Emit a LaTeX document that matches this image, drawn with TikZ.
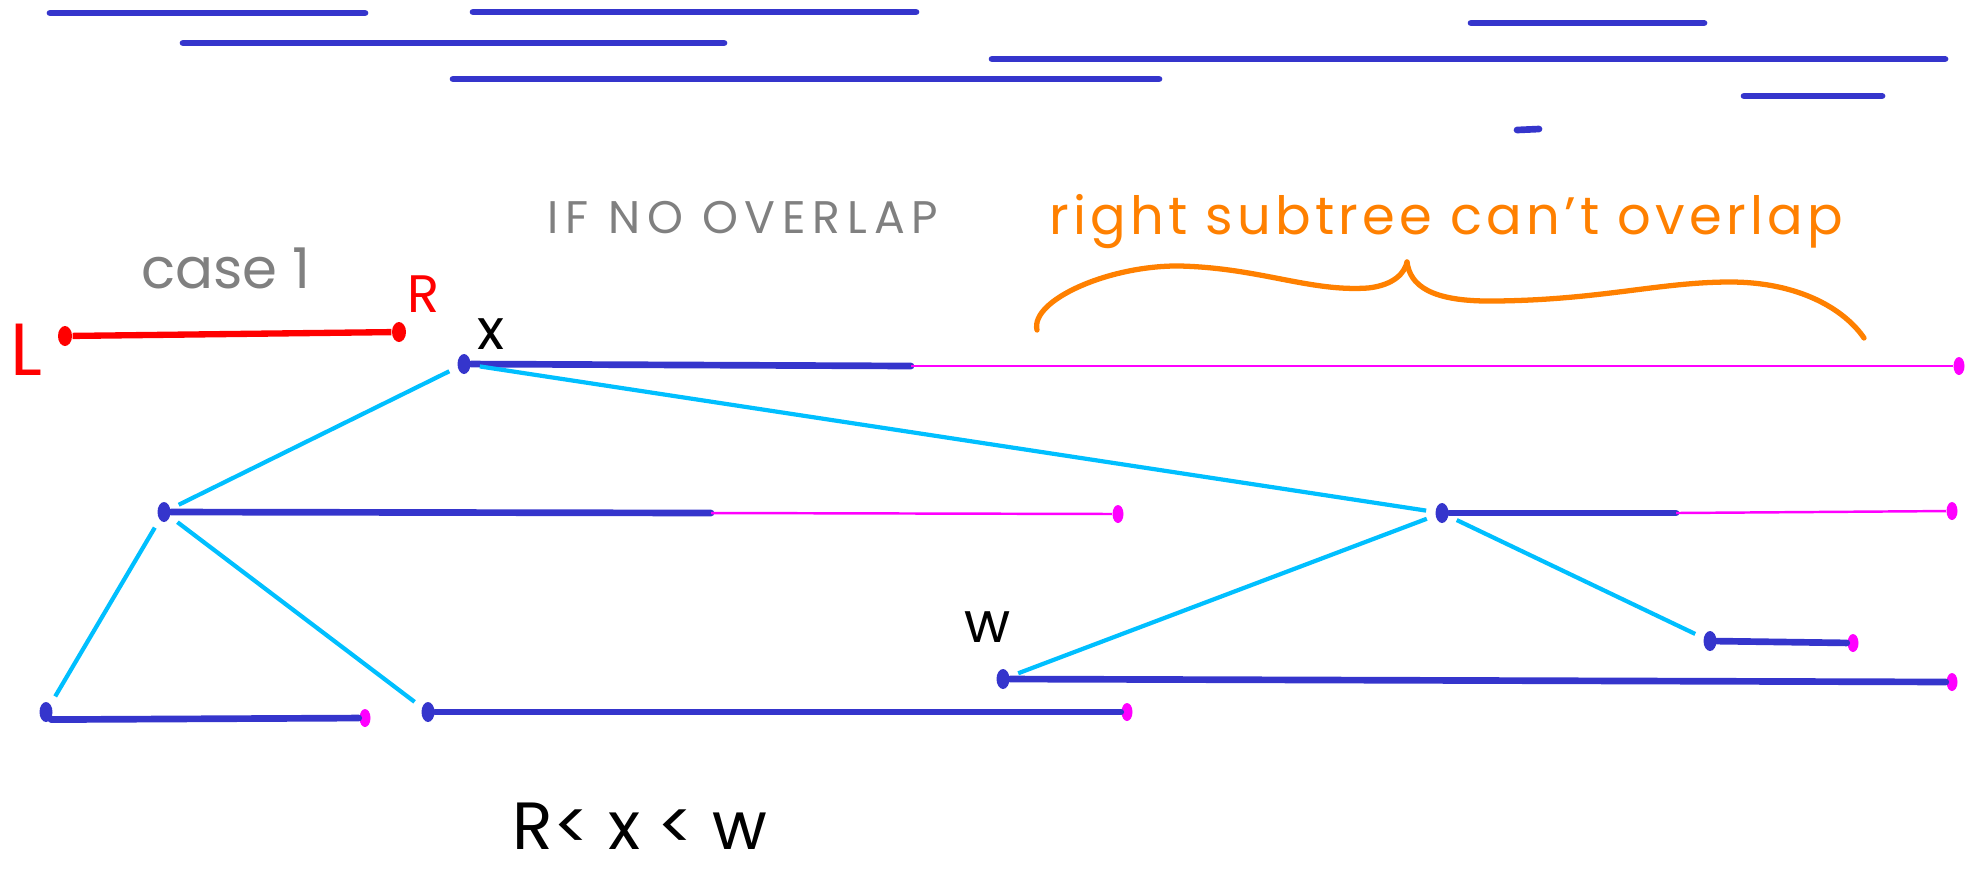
\documentclass[tikz,border=0pt]{standalone}
\usepackage{fontspec}
\setmainfont{Poppins}
\usetikzlibrary{shapes.geometric}
\definecolor{ivblue}{RGB}{53,53,204}
\definecolor{linkcyan}{RGB}{0,191,255}
\definecolor{tailpink}{RGB}{255,0,255}
\definecolor{queryred}{RGB}{255,0,0}
\definecolor{noteorange}{RGB}{255,128,0}
\definecolor{notegray}{RGB}{128,128,128}
\tikzset{
  lo/.style={ellipse,fill=ivblue,inner sep=0pt,minimum width=1.3mm,minimum height=2.0mm},
  hi/.style={ellipse,fill=tailpink,inner sep=0pt,minimum width=1.1mm,minimum height=1.8mm},
  qend/.style={ellipse,fill=queryred,inner sep=0pt,minimum width=1.4mm,minimum height=2.0mm},
  interval/.style={draw=ivblue,line width=1.9pt,line cap=round},
  tail/.style={draw=tailpink,line width=0.7pt},
  link/.style={draw=linkcyan,line width=1.2pt,shorten <=2.5pt,shorten >=2.5pt},
  query/.style={draw=queryred,line width=1.8pt},
  brace/.style={draw=noteorange,line width=1.5pt,line cap=round},
  note/.style={inner sep=0pt}
}

\begin{document}
\begin{tikzpicture}[x=0.1mm,y=-0.1mm]
  \useasboundingbox (0,0) rectangle (1967,870);

  % other intervals
  \draw[interval] (50,13) -- (365,13);
  \draw[interval] (473,12) -- (916,12);
  \draw[interval] (183,43) -- (724,43);
  \draw[interval] (453,79) -- (1159,79);
  \draw[interval] (1471,23) -- (1704,23);
  \draw[interval] (992,59) -- (1945,59);
  \draw[interval] (1744,96) -- (1882,96);
  \draw[interval] (1517,130) -- (1539,129);

  \node[note,font=\fontsize{13}{13}\selectfont\addfontfeature{LetterSpace=15},text=notegray]
    (nooverlap) at (743,218) {IF NO OVERLAP};
  \node[note,font=\fontsize{15}{15}\selectfont\addfontfeature{LetterSpace=8},text=noteorange]
    (rightnote) at (1446,222) {right subtree can't overlap};
  \draw[brace] (1037,330) .. controls (1030,300) and (1110,265) .. (1180,266)
    .. controls (1260,268) and (1310,292) .. (1368,288)
    .. controls (1395,285) and (1405,272) .. (1407,262);
  \draw[brace] (1407,262) .. controls (1410,285) and (1430,302) .. (1495,301)
    .. controls (1600,300) and (1660,282) .. (1730,282)
    .. controls (1800,282) and (1845,310) .. (1864,338);

  % query
  \node[note,font=\fontsize{16}{16}\selectfont,text=notegray] (case) at (226,268) {case 1};
  \node[qend] (ql) at (65,336) {};
  \node[qend] (qr) at (399,332) {};
  \draw[query] (ql) -- (qr);
  \node[note,font=\fontsize{21}{21}\selectfont,text=queryred] (lname) at (26,350) {L};
  \node[note,font=\fontsize{15}{15}\selectfont,text=queryred] (rname) at (424,294) {R};

  % tree
  \node[lo] (x) at (464,364) {};
  \node[hi] (xe) at (1959,366) {};
  \coordinate (xm) at (911,366);
  \draw[interval] (x) -- (xm);
  \draw[tail] (xm) -- (xe);
  \node[note,font=\fontsize{16}{16}\selectfont] (xname) at (491,334) {x};

  \node[lo] (a) at (164,512) {};
  \node[hi] (ae) at (1118,514) {};
  \coordinate (am) at (711,513);
  \draw[interval] (a) -- (am);
  \draw[tail] (am) -- (ae);

  \node[lo] (b) at (1442,513) {};
  \node[hi] (be) at (1952,511) {};
  \coordinate (bm) at (1676,513);
  \draw[interval] (b) -- (bm);
  \draw[tail] (bm) -- (be);

  \node[lo] (c) at (46,712) {};
  \node[hi] (ce) at (365,718) {};
  \draw[interval] (c.south east) -- (ce);

  \node[lo] (d) at (428,712) {};
  \node[hi] (de) at (1127,712) {};
  \draw[interval] (d) -- (de);

  \node[lo] (w) at (1003,679) {};
  \node[hi] (we) at (1952,682) {};
  \draw[interval] (w) -- (we);
  \node[note,font=\fontsize{16}{16}\selectfont] (wname) at (988,627) {w};

  \node[lo] (e) at (1710,641) {};
  \node[hi] (ee) at (1853,643) {};
  \draw[interval] (e) -- (ee);

  \draw[link] (x) -- (a);
  \draw[link] (x) -- (b);
  \draw[link] (a) -- (c);
  \draw[link] (a) -- (d);
  \draw[link] (b) -- (w);
  \draw[link] (b) -- (e);

  \node[note,font=\fontsize{19}{19}\selectfont] (order) at (640,826) {R< x < w};
\end{tikzpicture}
\end{document}
